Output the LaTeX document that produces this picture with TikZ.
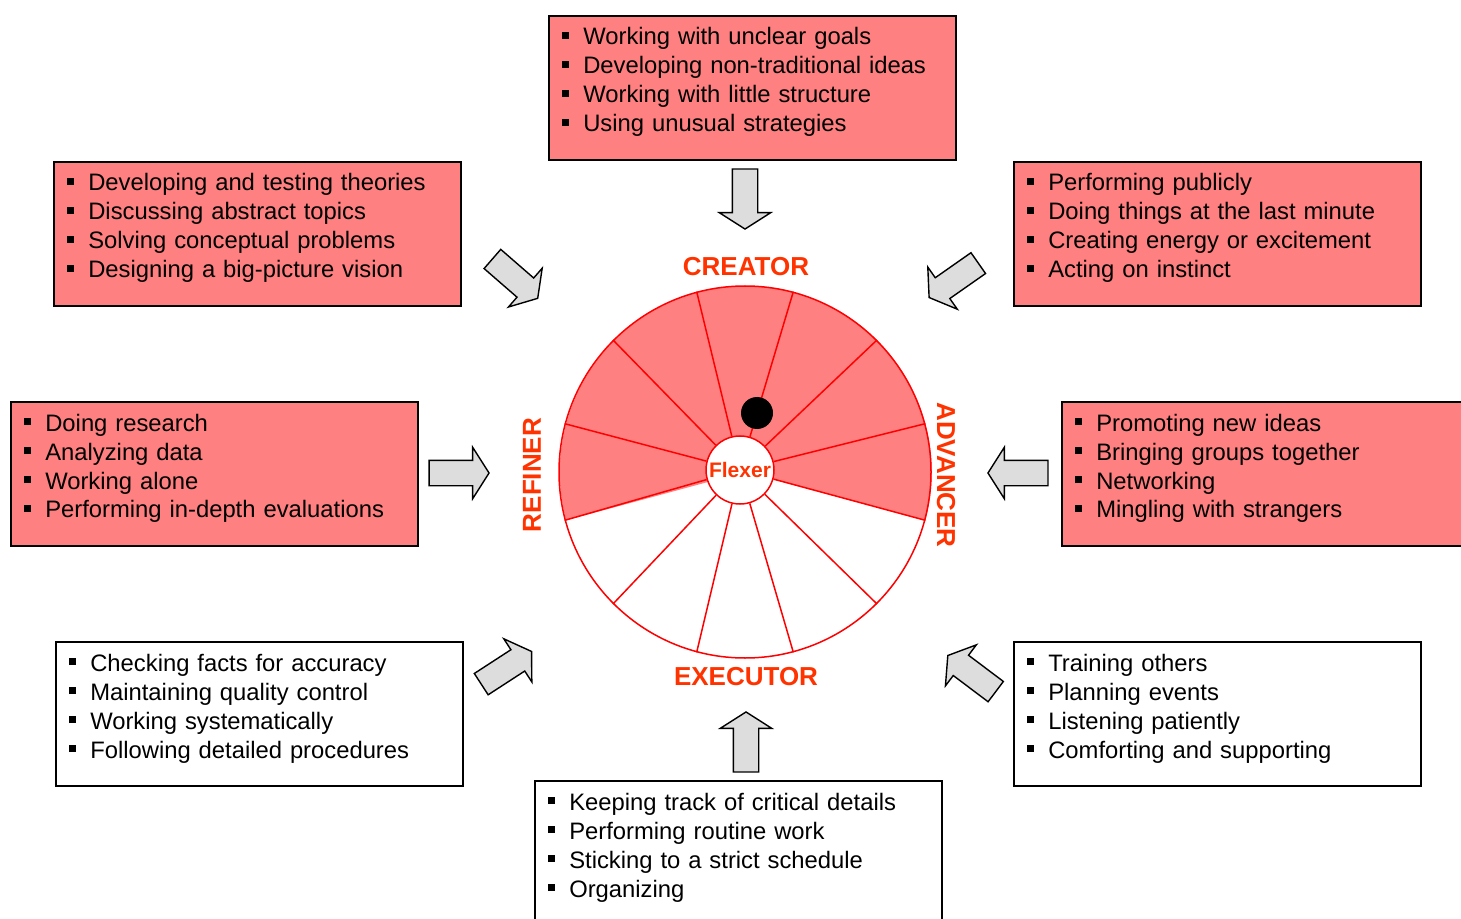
\documentclass[tikz,border=0pt]{standalone}
\usepackage{fontspec}
\setmainfont{Liberation Sans}
\usepackage{xcolor}
\usepackage{tikz}
\usetikzlibrary{backgrounds}
\usetikzlibrary{positioning}
\usetikzlibrary{shapes,arrows}
\definecolor{salmon}{HTML}{FF8080}
\definecolor{wheelred}{HTML}{FF0000}
\definecolor{labelred}{HTML}{FF3300}
\definecolor{arrowgray}{HTML}{DDDDDD}
\tikzstyle{listbox} = [rectangle, draw, line width=1pt, anchor=north west, align=left, text width=190.8pt, inner xsep=6.35pt, inner ysep=0pt, text height=14.5pt, text depth=57.5pt, font=\fontsize{11.9}{14.5}\selectfont]
\tikzstyle{hot} = [listbox, fill=salmon]
\tikzstyle{cold} = [listbox, fill=white]
\tikzstyle{bigarrow} = [single arrow, draw, fill=arrowgray, line width=0.7pt, minimum height=30pt, minimum width=25pt, single arrow head extend=6.5pt, single arrow tip angle=115, inner xsep=0pt, inner ysep=6pt]
\tikzstyle{rolelabel} = [text=labelred, font=\fontsize{13}{15}\selectfont\bfseries]
\tikzstyle{wheel} = [circle, draw=wheelred, line width=0.75pt, minimum size=186pt, inner sep=0pt]
\tikzstyle{hub} = [circle, draw=wheelred, fill=white, line width=0.75pt, minimum size=34pt, inner sep=0pt, text=labelred, font=\fontsize{10.5}{12}\selectfont\bfseries]
\tikzstyle{spoke} = [draw=wheelred, line width=0.75pt]
\tikzstyle{dot} = [circle, fill=black, minimum size=16pt, inner sep=0pt]
\newcommand{\sq}{\makebox[10.8pt][l]{\rule[3pt]{3.6pt}{3.6pt}}}

\begin{document}
\begin{tikzpicture}[x=0.5pt, y=-0.5pt]
\clip (0, 0) rectangle (1461, 919);

%% wheel
\node [wheel] at (745, 472) (wheel) {};
\begin{scope}[on background layer]
\fill [salmon] (wheel.center) -- (wheel.345) arc [start angle=-15, end angle=195, radius=93pt] -- cycle;
\end{scope}
\node [hub] at (740, 470) (flexer) {Flexer};
\foreach \a in {15, 45, ..., 345}
  \path [spoke] (flexer) -- (wheel.\a);
\node [dot] at (757, 413) (dot) {};

\node [rolelabel] at (746, 267) (creator) {CREATOR};
\node [rolelabel] at (746, 677) (executor) {EXECUTOR};
\node [rolelabel, rotate=90] at (532, 475) (refiner) {REFINER};
\node [rolelabel, rotate=-90] at (946, 475) (advancer) {ADVANCER};

%% lists
\node [hot] at (548, 15) (nbox) {\sq Working with unclear goals\\ \sq Developing non-traditional ideas\\ \sq Working with little structure\\ \sq Using unusual strategies};
\node [hot] at (53, 161) (nwbox) {\sq Developing and testing theories\\ \sq Discussing abstract topics\\ \sq Solving conceptual problems\\ \sq Designing a big-picture vision};
\node [hot] at (1013, 161) (nebox) {\sq Performing publicly\\ \sq Doing things at the last minute\\ \sq Creating energy or excitement\\ \sq Acting on instinct};
\node [hot] at (10, 401) (wbox) {\sq Doing research\\ \sq Analyzing data\\ \sq Working alone\\ \sq Performing in-depth evaluations};
\node [hot] at (1061, 401) (ebox) {\sq Promoting new ideas\\ \sq Bringing groups together\\ \sq Networking\\ \sq Mingling with strangers};
\node [cold] at (55, 641) (swbox) {\sq Checking facts for accuracy\\ \sq Maintaining quality control\\ \sq Working systematically\\ \sq Following detailed procedures};
\node [cold] at (1013, 641) (sebox) {\sq Training others\\ \sq Planning events\\ \sq Listening patiently\\ \sq Comforting and supporting};
\node [cold] at (534, 780) (sbox) {\sq Keeping track of critical details\\ \sq Performing routine work\\ \sq Sticking to a strict schedule\\ \sq Organizing};

%% arrows
\node [bigarrow, rotate=-90] at (745, 195) (arrN) {};
\node [bigarrow, rotate=-41] at (512, 276) (arrNW) {};
\node [bigarrow, rotate=-145] at (957, 278) (arrNE) {};
\node [bigarrow] at (455, 473) (arrW) {};
\node [bigarrow, rotate=180] at (1022, 473) (arrE) {};
\node [bigarrow, rotate=33] at (503, 670) (arrSW) {};
\node [bigarrow, rotate=143] at (975, 676) (arrSE) {};
\node [bigarrow, rotate=90] at (746, 746) (arrS) {};
\end{tikzpicture}
\end{document}
